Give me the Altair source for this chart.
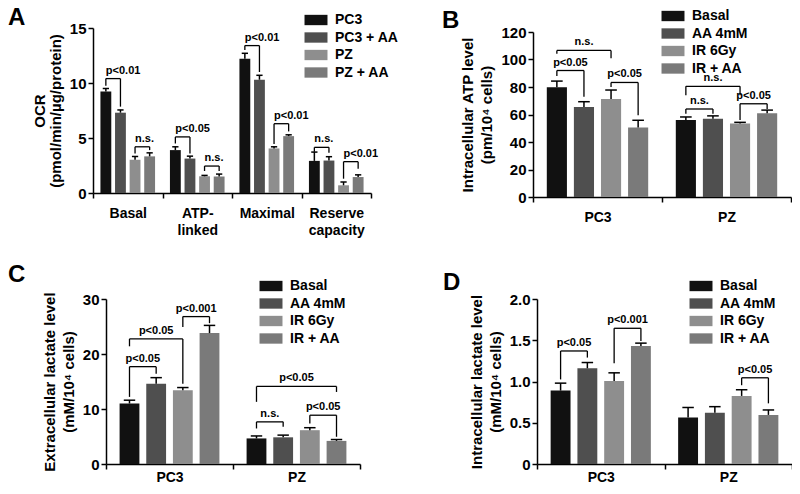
import altair as alt
import pandas as pd

FONT = "Liberation Sans"
W, H = 784, 478
STEP = 0.21
BAR_HALF = 0.078
CAP_HALF = 0.045

# ---------------- Panel A : OCR ----------------
a_groups = ["Basal", "ATP-\nlinked", "Maximal", "Reserve\ncapacity"]
a_series = ["PC3", "PC3 + AA", "PZ", "PZ + AA"]
a_mean_pc3 = [9.22, 3.9, 12.2, 2.92]
a_mean_pc3aa = [7.3, 3.13, 10.3, 2.95]
a_mean_pz = [3.02, 1.52, 4.05, 0.7]
a_mean_pzaa = [3.33, 1.5, 5.17, 1.45]
a_err_pc3 = [0.28, 0.3, 0.5, 0.8]
a_err_pc3aa = [0.25, 0.22, 0.4, 0.35]
a_err_pz = [0.3, 0.08, 0.15, 0.3]
a_err_pzaa = [0.32, 0.22, 0.12, 0.2]
a_br_group = [0, 0, 1, 1, 2, 2, 3, 3]
a_br_left = [0, 2, 0, 2, 0, 2, 0, 2]
a_br_right = [1, 3, 1, 3, 1, 3, 1, 3]
a_br_top = [10.4, 4.2, 5.1, 2.45, 13.4, 6.3, 4.15, 2.85]
a_br_lbot = [9.75, 3.6, 4.5, 2.0, 13.0, 4.45, 3.75, 1.3]
a_br_rbot = [7.85, 3.9, 3.6, 2.0, 11.0, 5.6, 3.65, 2.2]
a_br_label = ["p<0.01", "n.s.", "p<0.05", "n.s.", "p<0.01", "p<0.01", "n.s.", "p<0.01"]

# ---------------- Shared series for B, C, D ----------------
cell_groups = ["PC3", "PZ"]
treat_series = ["Basal", "AA 4mM", "IR 6Gy", "IR + AA"]

# ---------------- Panel B : intracellular ATP ----------------
b_mean_basal = [79.8, 56.0]
b_mean_aa = [65.5, 57.0]
b_mean_ir = [71.3, 53.5]
b_mean_iraa = [50.6, 61.0]
b_err_basal = [4.5, 2.2]
b_err_aa = [3.8, 2.0]
b_err_ir = [6.5, 0.8]
b_err_iraa = [5.2, 2.2]
b_br_group = [0, 0, 0, 1, 1, 1]
b_br_left = [0, 0, 2, 0, 0, 2]
b_br_right = [2, 1, 3, 2, 1, 3]
b_br_top = [106.6, 92.0, 83.3, 80.5, 64.0, 67.8]
b_br_lbot = [104.2, 88.0, 80.0, 74.0, 60.5, 56.0]
b_br_rbot = [101.0, 73.0, 59.5, 74.0, 60.5, 64.0]
b_br_label = ["n.s.", "p<0.05", "p<0.05", "n.s.", "n.s.", "p<0.05"]

# ---------------- Panel C : extracellular lactate ----------------
c_mean_basal = [11.0, 4.65]
c_mean_aa = [14.6, 4.85]
c_mean_ir = [13.4, 6.15]
c_mean_iraa = [23.8, 4.2]
c_err_basal = [0.6, 0.45]
c_err_aa = [1.1, 0.4]
c_err_ir = [0.5, 0.45]
c_err_iraa = [1.4, 0.25]
c_br_group = [0, 0, 0, 1, 1, 1]
c_br_left = [2, 0, 0, 0, 0, 2]
c_br_right = [3, 2, 1, 3, 1, 3]
c_br_top = [26.8, 22.75, 17.7, 14.1, 7.66, 8.87]
c_br_lbot = [24.9, 21.4, 12.2, 11.3, 6.46, 7.36]
c_br_rbot = [25.6, 14.6, 16.4, 13.1, 6.76, 4.95]
c_br_label = ["p<0.001", "p<0.05", "p<0.05", "p<0.05", "n.s.", "p<0.05"]

# ---------------- Panel D : intracellular lactate ----------------
d_mean_basal = [0.89, 0.565]
d_mean_aa = [1.16, 0.62]
d_mean_ir = [1.005, 0.825]
d_mean_iraa = [1.43, 0.595]
d_err_basal = [0.09, 0.12]
d_err_aa = [0.07, 0.075]
d_err_ir = [0.1, 0.075]
d_err_iraa = [0.035, 0.06]
d_br_group = [0, 0, 1]
d_br_left = [0, 2, 2]
d_br_right = [1, 3, 3]
d_br_top = [1.37, 1.645, 1.045]
d_br_lbot = [1.025, 1.22, 0.955]
d_br_rbot = [1.29, 1.49, 0.735]
d_br_label = ["p<0.05", "p<0.001", "p<0.05"]

panel_letters = ["A", "B", "C", "D"]

COLORS = ["#111111", "#4f4f4f", "#8e8e8e", "#7a7a7a"]
SYMBOL = "M-2,-0.9H2V0.9H-2Z"


def bar_frame(groups, series, means, errs):
    rows = []
    for gi in range(len(groups)):
        for si, s in enumerate(series):
            rows.append({"g": gi, "s": si, "series": s,
                         "mean": means[si][gi], "err": errs[si][gi]})
    return pd.DataFrame(rows)


def bracket_frame(g, sl, sr, top, lb, rb, label):
    return pd.DataFrame({"g": g, "sl": sl, "sr": sr, "top": top,
                         "lb": lb, "rb": rb, "label": label})


def label_expr(groups):
    parts = []
    for i, name in enumerate(groups):
        lines = name.split("\n")
        if len(lines) == 1:
            js = "'%s'" % lines[0]
        else:
            js = "[" + ",".join("'%s'" % l for l in lines) + "]"
        parts.append("datum.value == %d ? %s : " % (i, js))
    return "".join(parts) + "''"


def panel(groups, series, bars, brk, xr, yr, ymax, yvals, ytitle, legend_xy,
          ylab_expr=None, x_label_pad=8, y_title_pad=6, text_align="center",
          title_lh=17):
    n = len(groups)
    xs = alt.Scale(domain=[-0.5, n - 0.5], range=list(xr), nice=False, zero=False)
    ys = alt.Scale(domain=[0, ymax], range=[yr[0], yr[1]], nice=False)
    xvals = [i * 0.5 - 0.5 for i in range(2 * n + 1)]
    common = dict(grid=False, domainColor="black", domainWidth=1.5,
                  tickColor="black", tickWidth=1.5, tickSize=5,
                  labelFont=FONT, labelFontWeight="bold", labelColor="black",
                  titleFont=FONT, titleFontWeight="bold", titleColor="black")
    xaxis = alt.Axis(orient="bottom", offset=yr[0] - H, values=xvals,
                     labelExpr=label_expr(groups), title="",
                     tickOpacity={"condition": {"test": "datum.value % 1 != 0", "value": 1}, "value": 0},
                     labelFontSize=14, labelPadding=x_label_pad, labelLineHeight=17,
                     labelOverlap=False, labelFlush=False, **common)
    yargs = dict(orient="left", offset=-xr[0], values=yvals, title=ytitle,
                 labelFontSize=15, labelPadding=2, titleFontSize=15,
                 titlePadding=y_title_pad, titleLineHeight=title_lh,
                 labelOverlap=False, **common)
    if ylab_expr:
        yargs["labelExpr"] = ylab_expr
    yaxis = alt.Axis(**yargs)

    def X(field):
        return alt.X(field, scale=xs, axis=xaxis)

    def Y(field):
        return alt.Y(field, scale=ys, axis=yaxis)

    legend = alt.Legend(orient="none", legendX=legend_xy[0], legendY=legend_xy[1],
                        title=None, symbolType=SYMBOL, symbolSize=132,
                        symbolStrokeWidth=0, labelFont=FONT, labelFontSize=14,
                        labelFontWeight="bold", labelColor="black",
                        labelOffset=12, rowPadding=3.5)

    base = alt.Chart(bars).transform_calculate(
        xc="datum.g + (datum.s - 1.5) * %f" % STEP
    ).transform_calculate(
        x1="datum.xc - %f" % BAR_HALF, x2="datum.xc + %f" % BAR_HALF,
        cl="datum.xc - %f" % CAP_HALF, cr="datum.xc + %f" % CAP_HALF,
        hi="datum.mean + datum.err", base="0"
    )
    bar_layer = base.mark_bar().encode(
        x=X("x1:Q"), x2="x2:Q",
        y=Y("mean:Q"), y2="base:Q",
        color=alt.Color("series:N", scale=alt.Scale(domain=series, range=COLORS),
                        legend=legend),
    )
    err_layer = base.mark_rule(color="black", strokeWidth=1.5).encode(
        x=X("xc:Q"), y=Y("mean:Q"), y2="hi:Q")
    cap_layer = base.mark_rule(color="black", strokeWidth=1.5).encode(
        x=X("cl:Q"), x2="cr:Q", y=Y("hi:Q"))

    bb = alt.Chart(brk).transform_calculate(
        xa="datum.g + (datum.sl - 1.5) * %f" % STEP,
        xb="datum.g + (datum.sr - 1.5) * %f" % STEP,
    ).transform_calculate(xm="(datum.xa + datum.xb) / 2")
    hline = bb.mark_rule(color="black", strokeWidth=1.3).encode(
        x=X("xa:Q"), x2="xb:Q", y=Y("top:Q"))
    lleg = bb.mark_rule(color="black", strokeWidth=1.3).encode(
        x=X("xa:Q"), y=Y("top:Q"), y2="lb:Q")
    rleg = bb.mark_rule(color="black", strokeWidth=1.3).encode(
        x=X("xb:Q"), y=Y("top:Q"), y2="rb:Q")
    txt = bb.mark_text(align=text_align, baseline="bottom", dy=-3, font=FONT,
                       fontSize=11, fontWeight="bold", color="black").encode(
        x=X("xa:Q" if text_align == "left" else "xm:Q"),
        y=Y("top:Q"), text="label:N")
    return alt.layer(bar_layer, err_layer, cap_layer, hline, lleg, rleg, txt)


pA = panel(a_groups, a_series,
           bar_frame(a_groups, a_series,
                     [a_mean_pc3, a_mean_pc3aa, a_mean_pz, a_mean_pzaa],
                     [a_err_pc3, a_err_pc3aa, a_err_pz, a_err_pzaa]),
           bracket_frame(a_br_group, a_br_left, a_br_right, a_br_top,
                         a_br_lbot, a_br_rbot, a_br_label),
           xr=(85, 363), yr=(185, 20), ymax=15, yvals=[0, 5, 10, 15],
           ytitle=["OCR", "(pmol/min/µg/protein)"], legend_xy=(301, 5),
           x_label_pad=8, text_align="left", title_lh=16)

pB = panel(cell_groups, treat_series,
           bar_frame(cell_groups, treat_series,
                     [b_mean_basal, b_mean_aa, b_mean_ir, b_mean_iraa],
                     [b_err_basal, b_err_aa, b_err_ir, b_err_iraa]),
           bracket_frame(b_br_group, b_br_left, b_br_right, b_br_top,
                         b_br_lbot, b_br_rbot, b_br_label),
           xr=(525, 783), yr=(189, 24), ymax=120, yvals=[0, 20, 40, 60, 80, 100, 120],
           ytitle=["Intracellular ATP level", "(pm/10⁴ cells)"], legend_xy=(658, 1),
           x_label_pad=8, title_lh=19)

pC = panel(cell_groups, treat_series,
           bar_frame(cell_groups, treat_series,
                     [c_mean_basal, c_mean_aa, c_mean_ir, c_mean_iraa],
                     [c_err_basal, c_err_aa, c_err_ir, c_err_iraa]),
           bracket_frame(c_br_group, c_br_left, c_br_right, c_br_top,
                         c_br_lbot, c_br_rbot, c_br_label),
           xr=(98, 352), yr=(456, 291), ymax=30, yvals=[0, 10, 20, 30],
           ytitle=["Extracellular lactate level", "(mM/10⁴ cells)"], legend_xy=(256, 271),
           x_label_pad=1, title_lh=19)

pD = panel(cell_groups, treat_series,
           bar_frame(cell_groups, treat_series,
                     [d_mean_basal, d_mean_aa, d_mean_ir, d_mean_iraa],
                     [d_err_basal, d_err_aa, d_err_ir, d_err_iraa]),
           bracket_frame(d_br_group, d_br_left, d_br_right, d_br_top,
                         d_br_lbot, d_br_rbot, d_br_label),
           xr=(529, 784), yr=(456, 291), ymax=2.0, yvals=[0, 0.5, 1.0, 1.5, 2.0],
           ytitle=["Intracellular lactate level", "(mM/10⁴ cells)"], legend_xy=(686, 271),
           ylab_expr="datum.value == 0 ? '0' : format(datum.value, '.1f')",
           x_label_pad=1, title_lh=19)

letter_x = [0, 434, 0, 435]
letter_y = [17, 20, 274, 282]
letter_layers = [
    alt.Chart(pd.DataFrame({"t": [t]})).mark_text(
        align="left", baseline="alphabetic", font=FONT, fontSize=24,
        fontWeight="bold", color="black").encode(
        text="t:N", x=alt.value(lx), y=alt.value(ly))
    for t, lx, ly in zip(panel_letters, letter_x, letter_y)
]

chart = alt.layer(pA, pB, pC, pD, *letter_layers).resolve_scale(
    x="independent", y="independent", color="independent"
).properties(
    width=W, height=H, padding=0,
    autosize=alt.AutoSizeParams(type="none")
).configure_view(strokeWidth=0)

chart.save("out.html", embed_options={"renderer": "svg", "actions": False})
